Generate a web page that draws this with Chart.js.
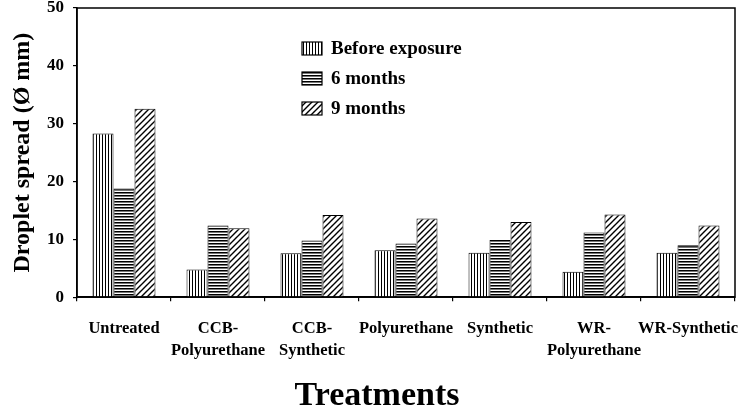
<!DOCTYPE html>
<html>
<head>
<meta charset="utf-8">
<script src="https://cdn.jsdelivr.net/npm/chart.js@4/dist/chart.umd.min.js"></script>
<style>
html,body{margin:0;padding:0;background:#fff;}
#wrap{width:754px;height:419px;position:relative;}
</style>
</head>
<body>
<div id="wrap"><canvas id="c" width="754" height="419"></canvas></div>
<script>
const categories = [
  "Untreated",
  ["CCB-", "Polyurethane"],
  ["CCB-", "Synthetic"],
  "Polyurethane",
  "Synthetic",
  ["WR-", "Polyurethane"],
  "WR-Synthetic"
];
const seriesNames = ["Before exposure", "6 months", "9 months"];
const beforeExposure = [28.3, 4.8, 7.6, 8.1, 7.7, 4.4, 7.7];
const sixMonths      = [18.8, 12.4, 9.8, 9.3, 9.9, 11.2, 9.0];
const nineMonths     = [32.6, 11.9, 14.2, 13.6, 13.0, 14.3, 12.4];
const yTicks = [0, 10, 20, 30, 40, 50];

const FONT = "'Liberation Serif', 'Times New Roman', serif";

function makePattern(type) {
  const c = document.createElement('canvas');
  const x = c.getContext('2d');
  if (type === 'v') {
    c.width = 3; c.height = 3;
    x.fillStyle = '#fff'; x.fillRect(0, 0, 3, 3);
    x.fillStyle = '#000'; x.fillRect(0, 0, 1, 3);
  } else if (type === 'h') {
    c.width = 3; c.height = 3;
    x.fillStyle = '#fff'; x.fillRect(0, 0, 3, 3);
    x.fillStyle = '#000'; x.fillRect(0, 0, 3, 1);
    x.fillStyle = '#777'; x.fillRect(0, 1, 3, 1);
  } else {
    c.width = 6; c.height = 6;
    x.fillStyle = '#fff'; x.fillRect(0, 0, 6, 6);
    x.strokeStyle = '#000'; x.lineWidth = 1.4;
    x.beginPath();
    x.moveTo(-1, 7); x.lineTo(7, -1);
    x.moveTo(-1, 1); x.lineTo(1, -1);
    x.moveTo(5, 7); x.lineTo(7, 5);
    x.stroke();
  }
  return document.getElementById('c').getContext('2d').createPattern(c, 'repeat');
}
const patterns = [makePattern('v'), makePattern('h'), makePattern('d')];

const frameAndLegend = {
  id: 'frameAndLegend',
  afterDraw(chart) {
    const {ctx, chartArea: a} = chart;
    ctx.save();
    ctx.strokeStyle = '#000';
    ctx.lineWidth = 1.5;
    ctx.strokeRect(a.left, a.top, a.right - a.left, a.bottom - a.top);
    // legend
    const lx = a.left + 225, ly0 = a.top + 40, gap = 30;
    ctx.font = "bold 19px " + FONT;
    ctx.textBaseline = 'middle';
    ctx.textAlign = 'left';
    chart.data.datasets.forEach((ds, i) => {
      const y = ly0 + i * gap;
      ctx.fillStyle = ds.backgroundColor;
      ctx.fillRect(lx, y - 6, 20, 13);
      ctx.lineWidth = 1.2;
      ctx.strokeRect(lx, y - 6, 20, 13);
      ctx.fillStyle = '#000';
      ctx.fillText(ds.label, lx + 29, y + 1);
    });
    ctx.restore();
  }
};

new Chart(document.getElementById('c'), {
  type: 'bar',
  data: {
    labels: categories,
    datasets: [
      {label: seriesNames[0], data: beforeExposure, backgroundColor: patterns[0]},
      {label: seriesNames[1], data: sixMonths, backgroundColor: patterns[1]},
      {label: seriesNames[2], data: nineMonths, backgroundColor: patterns[2]}
    ].map(d => Object.assign(d, {borderColor: '#000', borderWidth: 1, categoryPercentage: 0.67, barPercentage: 1.0, yAxisID: 'y'}))
  },
  options: {
    responsive: false,
    animation: false,
    devicePixelRatio: 1,
    layout: {padding: {left: 0, right: 0, top: 8, bottom: 0}},
    plugins: {
      legend: {display: false},
      tooltip: {enabled: false},
      title: {display: true, position: 'bottom', text: 'Treatments', color: '#000',
              font: {family: FONT, size: 34, weight: 'bold', lineHeight: 1.2}, padding: {top: 0, bottom: 2}}
    },
    scales: {
      x: {
        grid: {display: true, drawOnChartArea: false, offset: true, color: '#000', tickLength: 4, lineWidth: 1.2},
        border: {display: true, color: '#000', width: 1.5},
        ticks: {color: '#000', font: {family: FONT, size: 16.5, weight: 'bold', lineHeight: 1.35}, padding: 16, maxRotation: 0, autoSkip: false},
        afterFit(s) { s.height = 79; s.paddingLeft = 0; s.paddingRight = 0; }
      },
      y: {
        min: 0, max: 50,
        afterBuildTicks(s) { s.ticks = yTicks.map(v => ({value: v})); },
        grid: {display: true, drawOnChartArea: false, color: '#000', tickLength: 4, lineWidth: 1.2},
        border: {display: true, color: '#000', width: 1.5},
        ticks: {color: '#000', font: {family: FONT, size: 17, weight: 'bold'}, padding: 9},
        title: {display: true, text: 'Droplet spread (Ø mm)', color: '#000', font: {family: FONT, size: 24, weight: 'bold'}, padding: {top: 8, bottom: 0}},
        afterFit(s) { s.width = 77; s.paddingTop = 0; s.paddingBottom = 0; }
      },
      yRight: {
        position: 'right',
        min: 0, max: 50,
        grid: {display: false},
        border: {display: false},
        ticks: {display: false},
        afterFit(s) { s.width = 19; s.paddingTop = 0; s.paddingBottom = 0; }
      }
    }
  },
  plugins: [frameAndLegend]
});
</script>
</body>
</html>
